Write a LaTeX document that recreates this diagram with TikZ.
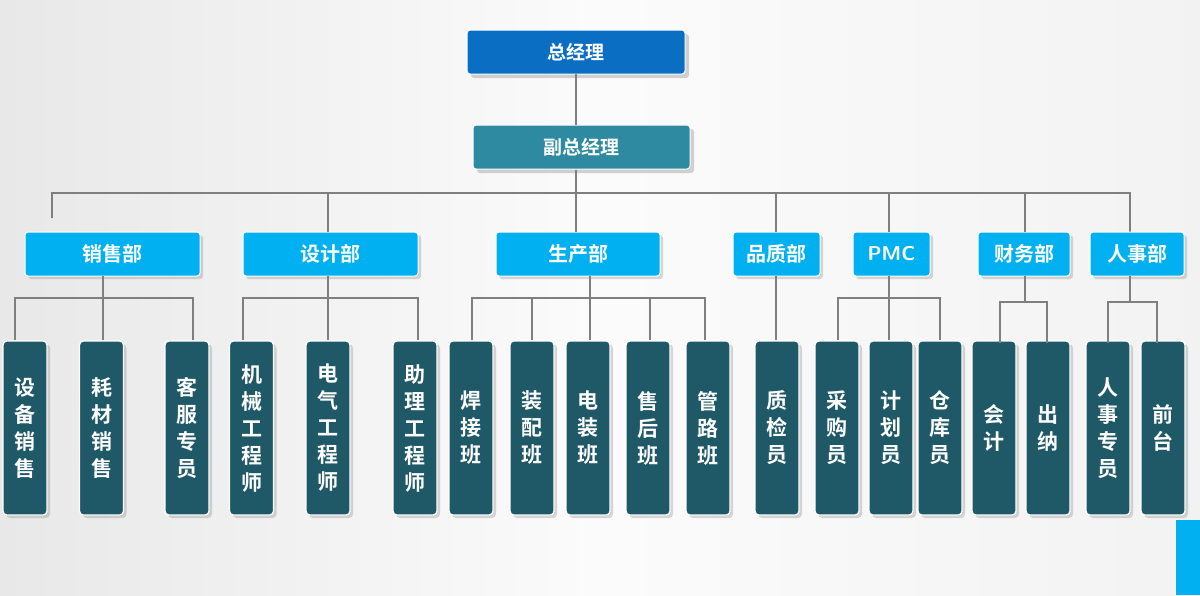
\documentclass[tikz,border=0pt]{standalone}
\usepackage{fontspec}
\newfontfamily\cjk{Noto Sans CJK SC}[BoldFont={Noto Sans CJK SC Bold}]
\usetikzlibrary{shadows}
\definecolor{topc}{HTML}{0A6EC2}
\definecolor{vicec}{HTML}{2E8AA0}
\definecolor{deptc}{HTML}{00B0F0}
\definecolor{subc}{HTML}{1F5867}
\definecolor{linec}{HTML}{7F7F7F}
\begin{document}
\begin{tikzpicture}[x=1pt,y=-1pt,
  every node/.style={font=\cjk\bfseries, text=white},
  boss/.style={draw=white, line width=1pt, rounded corners=3pt, minimum height=44pt, inner sep=0pt, font=\cjk\bfseries\fontsize{19}{22}\selectfont, drop shadow={opacity=0.35,shadow xshift=4pt,shadow yshift=-4pt}},
  dept/.style={fill=deptc, draw=white, line width=1pt, rounded corners=3pt, minimum height=44pt, inner sep=0pt, font=\cjk\bfseries\fontsize{20}{22}\selectfont, drop shadow={opacity=0.3,shadow xshift=3pt,shadow yshift=-3pt}},
  sub/.style={fill=subc, draw=white, line width=1.2pt, rounded corners=4pt, minimum width=44pt, minimum height=174pt, inner sep=0pt, align=center, font=\cjk\bfseries\fontsize{21}{27}\selectfont, drop shadow={opacity=0.3,shadow xshift=3pt,shadow yshift=-3pt}},
  conn/.style={draw=linec, line width=1.2pt}]
\shade[left color=white!82!gray, right color=white!90!gray, middle color=white!97!gray] (0,0) rectangle (1200,595);
\useasboundingbox (0,0) rectangle (1200,595);
\fill[deptc] (1176,520) rectangle (1200,595);
% top
\node[boss, fill=topc, minimum width=218pt] (gm) at (576,52) {总经理};
\node[boss, fill=vicec, minimum width=217pt] (vgm) at (581.5,147) {副总经理};
\draw[conn] (576,74) -- (576,125);
\coordinate (bus) at (576,193);
\draw[conn] (vgm.south -| 576,0) -- (bus);
\draw[conn] (52,218) -- (52,193) -- (1130,193) -- (1130,232);
% departments
\node[dept, minimum width=175pt] (d1) at (112.5,254) {销售部};
\node[dept, minimum width=175pt] (d2) at (330.5,254) {设计部};
\node[dept, minimum width=164pt] (d3) at (578,254) {生产部};
\node[dept, minimum width=87pt] (d4) at (776.5,254) {品质部};
\node[dept, minimum width=77pt, font=\sffamily\bfseries\fontsize{20}{22}\selectfont] (d5) at (891.5,254) {PMC};
\node[dept, minimum width=92pt] (d6) at (1024,254) {财务部};
\node[dept, minimum width=94pt] (d7) at (1137,254) {人事部};
\foreach \x in {328,576,776,889,1025} \draw[conn] (\x,193) -- (\x,232);
% sub boxes
\foreach \n/\x/\t in {s1/25/设\\备\\销\\售, s2/101.5/耗\\材\\销\\售, s3/187/客\\服\\专\\员,
  s4/251.5/机\\械\\工\\程\\师, s5/328/电\\气\\工\\程\\师, s6/415/助\\理\\工\\程\\师,
  s7/471/焊\\接\\班, s8/532/装\\配\\班, s9/588/电\\装\\班, s10/648/售\\后\\班, s11/708/管\\路\\班,
  s12/777/质\\检\\员, s13/837/采\\购\\员, s14/891/计\\划\\员, s15/940/仓\\库\\员,
  s16/994/会\\计, s17/1048/出\\纳, s18/1108/人\\事\\专\\员, s19/1163/前\\台}
  \node[sub] (\n) at (\x,428) {\t};
% sub connectors
\draw[conn] (103,276) -- (103,298); \draw[conn] (15,340) -- (15,298) -- (193,298) -- (193,340); \draw[conn] (103,298) -- (103,340);
\draw[conn] (328,276) -- (328,340); \draw[conn] (243,340) -- (243,298) -- (418,298) -- (418,340);
\draw[conn] (590,276) -- (590,340); \draw[conn] (472,340) -- (472,298) -- (705,298) -- (705,340);
\foreach \x in {532,650} \draw[conn] (\x,298) -- (\x,340);
\draw[conn] (776,276) -- (776,340);
\draw[conn] (889,276) -- (889,340); \draw[conn] (838,340) -- (838,298) -- (940,298) -- (940,340);
\draw[conn] (1025,276) -- (1025,302); \draw[conn] (1000,343) -- (1000,302) -- (1047,302) -- (1047,343);
\draw[conn] (1130,276) -- (1130,302); \draw[conn] (1108,343) -- (1108,302) -- (1157,302) -- (1157,343);
\end{tikzpicture}
\end{document}
